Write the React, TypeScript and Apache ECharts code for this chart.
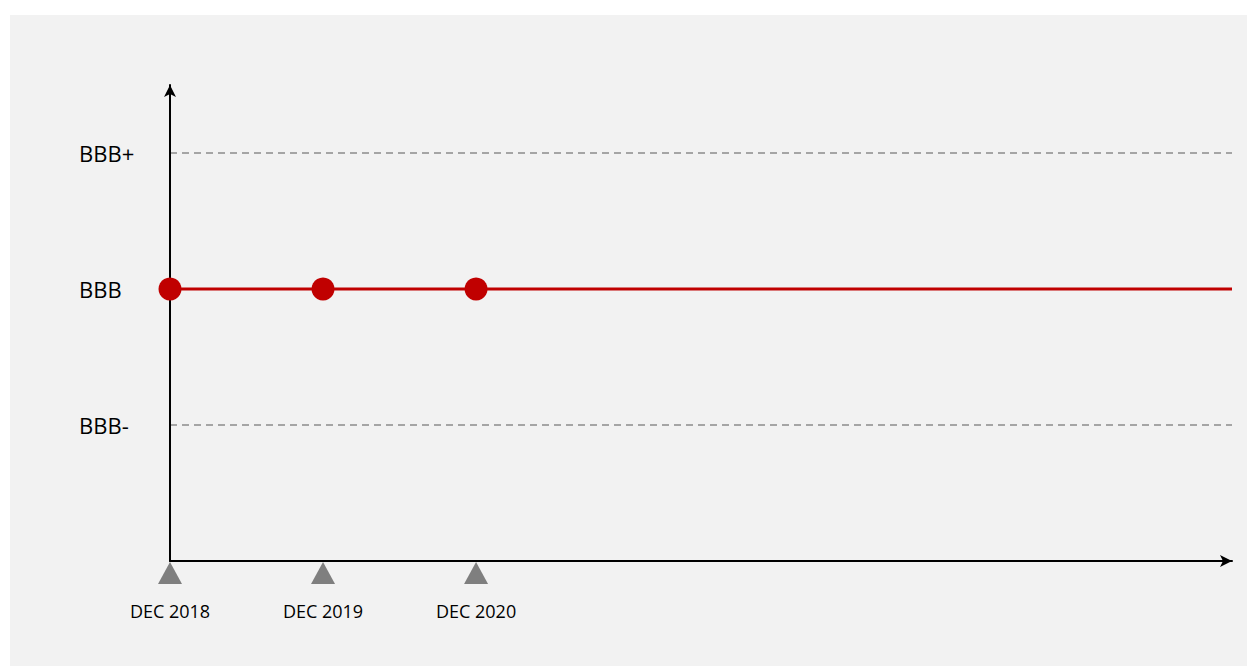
import React, { useEffect, useRef } from "react";
import * as echarts from "echarts";

const ratingLabels: string[] = ["", "BBB-", "BBB", "BBB+"];
const dateLabels: string[] = ["DEC 2018", "DEC 2019", "DEC 2020"];
const ratingPoints: number[][] = [
  [0, 2],
  [1, 2],
  [2, 2],
];
const ratingLineEnd: number = 6.94;
const ratingLine: number[][] = [...ratingPoints, [ratingLineEnd, 2]];
const markerPoints: number[][] = [
  [0, 0],
  [1, 0],
  [2, 0],
];

export default function App() {
  const ref = useRef<HTMLDivElement>(null);
  useEffect(() => {
    if (!ref.current) return;
    const chart = echarts.init(ref.current, undefined, { renderer: "svg" });
    chart.setOption({
      animation: false,
      backgroundColor: "#ffffff",
      graphic: [
        {
          type: "rect",
          z: -100,
          silent: true,
          shape: { x: 10, y: 15, width: 1237, height: 651 },
          style: { fill: "#f2f2f2" },
        },
      ],
      grid: { left: 170, right: 15, top: 85, bottom: 105, containLabel: false },
      xAxis: {
        type: "value",
        min: 0,
        max: ratingLineEnd,
        interval: 1,
        axisLine: {
          show: true,
          lineStyle: { color: "#000000", width: 2 },
          symbol: ["none", "arrow"],
          symbolSize: [9, 12],
        },
        axisTick: { show: false },
        splitLine: { show: false },
        axisLabel: {
          margin: 41,
          fontFamily: "Open Sans",
          fontSize: 18,
          color: "#000000",
          showMaxLabel: false,
          formatter: (v: number) =>
            Number.isInteger(v) && dateLabels[v] ? dateLabels[v] : "",
        },
      },
      yAxis: {
        type: "value",
        min: 0,
        max: 3.5,
        interval: 1,
        axisLine: {
          show: true,
          lineStyle: { color: "#000000", width: 2 },
          symbol: ["none", "arrow"],
          symbolSize: [9, 12],
        },
        axisTick: { show: false },
        splitLine: {
          show: true,
          showMinLine: false,
          showMaxLine: false,
          lineStyle: { color: "#8c8c8c", width: 1.5, type: [7, 5] },
        },
        axisLabel: {
          margin: 91,
          align: "left",
          fontFamily: "Open Sans",
          fontSize: 22,
          color: "#000000",
          formatter: (v: number) =>
            Number.isInteger(v) && ratingLabels[v] ? ratingLabels[v] : "",
        },
      },
      series: [
        {
          type: "line",
          data: ratingLine,
          showSymbol: false,
          lineStyle: { color: "#c00000", width: 3 },
          z: 3,
        },
        {
          type: "scatter",
          data: ratingPoints,
          symbol: "circle",
          symbolSize: 23,
          itemStyle: { color: "#c00000", opacity: 1 },
          z: 4,
        },
        {
          type: "scatter",
          data: markerPoints,
          symbol: "triangle",
          symbolSize: [24, 22],
          symbolOffset: [0, 12],
          clip: false,
          itemStyle: { color: "#7f7f7f", opacity: 1 },
          z: 1,
        },
      ],
    });
    return () => chart.dispose();
  }, []);
  return (
    <div
      ref={ref}
      style={{ position: "fixed", left: 0, top: 0, width: 1247, height: 666 }}
    />
  );
}
